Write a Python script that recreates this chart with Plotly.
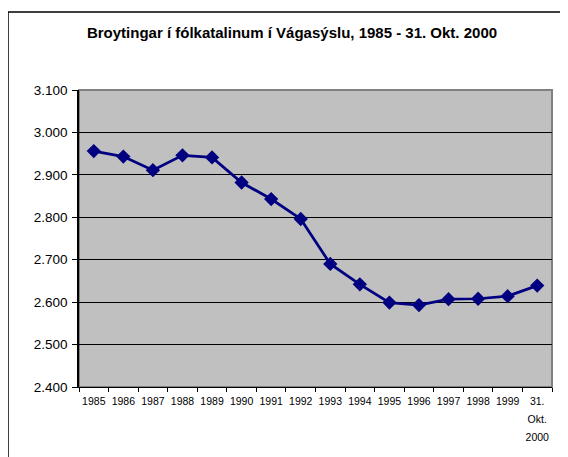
import plotly.graph_objects as go

categories = ["1985", "1986", "1987", "1988", "1989", "1990", "1991", "1992",
              "1993", "1994", "1995", "1996", "1997", "1998", "1999", "31. Okt. 2000"]
tick_lines = [["1985"], ["1986"], ["1987"], ["1988"], ["1989"], ["1990"], ["1991"], ["1992"],
              ["1993"], ["1994"], ["1995"], ["1996"], ["1997"], ["1998"], ["1999"],
              ["31.", "Okt.", "2000"]]
population = [2956, 2943, 2911, 2946, 2941, 2882, 2843, 2796,
              2690, 2642, 2599, 2593, 2607, 2608, 2614, 2639]

# small label text inside a larger line box (wide line spacing)
tick_text = ["<br>".join(f"<span style='font-size:10.5px'>{s}</span>" for s in lines)
             for lines in tick_lines]

OFF = 8  # page body margin
W, H = 568 - OFF, 457 - OFF
L, R, T, B = 79 - OFF, 16, 90 - OFF, 70
pw, ph = W - L - R, H - T - B

fig = go.Figure()
fig.add_trace(go.Scatter(
    x=categories, y=population, mode="lines+markers",
    line=dict(color="#000080", width=2.75),
    marker=dict(symbol="diamond", size=11, color="#000080"),
    hoverinfo="x+y", showlegend=False,
))

fig.update_layout(
    width=W, height=H,
    margin=dict(l=L, r=R, t=T, b=B),
    paper_bgcolor="white",
    plot_bgcolor="#C0C0C0",
    separators=",.",
    font=dict(family="Liberation Sans, Arial, sans-serif", color="black"),
    title=dict(
        text="<b>Broytingar í fólkatalinum í Vágasýslu, 1985 - 31. Okt. 2000</b>",
        x=284 / W, xanchor="center", y=1 - 25 / H, yanchor="middle",
        font=dict(size=15, family="Liberation Sans, Arial, sans-serif", color="black"),
    ),
    xaxis=dict(
        type="category",
        tickmode="array", tickvals=categories, ticktext=tick_text,
        tickson="boundaries", ticks="outside", ticklen=4, tickcolor="black",
        tickfont=dict(size=13.7), tickangle=0, ticklabelstandoff=1,
        showgrid=False, zeroline=False,
        showline=True, linecolor="black", linewidth=1,
        range=[-0.5, len(categories) - 0.5],
    ),
    yaxis=dict(
        range=[2400, 3100], dtick=100, tick0=2400,
        tickformat=",d",
        ticks="outside", ticklen=5, tickcolor="black",
        tickfont=dict(size=13.5), ticklabelstandoff=2,
        showgrid=True, gridcolor="black", gridwidth=1,
        zeroline=False,
        showline=True, linecolor="black", linewidth=1.5,
    ),
    shapes=[
        dict(type="rect", xref="x domain", yref="y domain", x0=0, x1=1, y0=0, y1=1,
             line=dict(color="#808080", width=2), layer="below"),
        dict(type="rect", xref="paper", yref="paper",
             x0=(0 - L) / pw, x1=(W + 20 - L) / pw,
             y0=-(H + 20 - T - ph) / ph, y1=(H - B - 4) / ph,
             line=dict(color="black", width=1.5)),
    ],
)

fig.write_html("out.html")
